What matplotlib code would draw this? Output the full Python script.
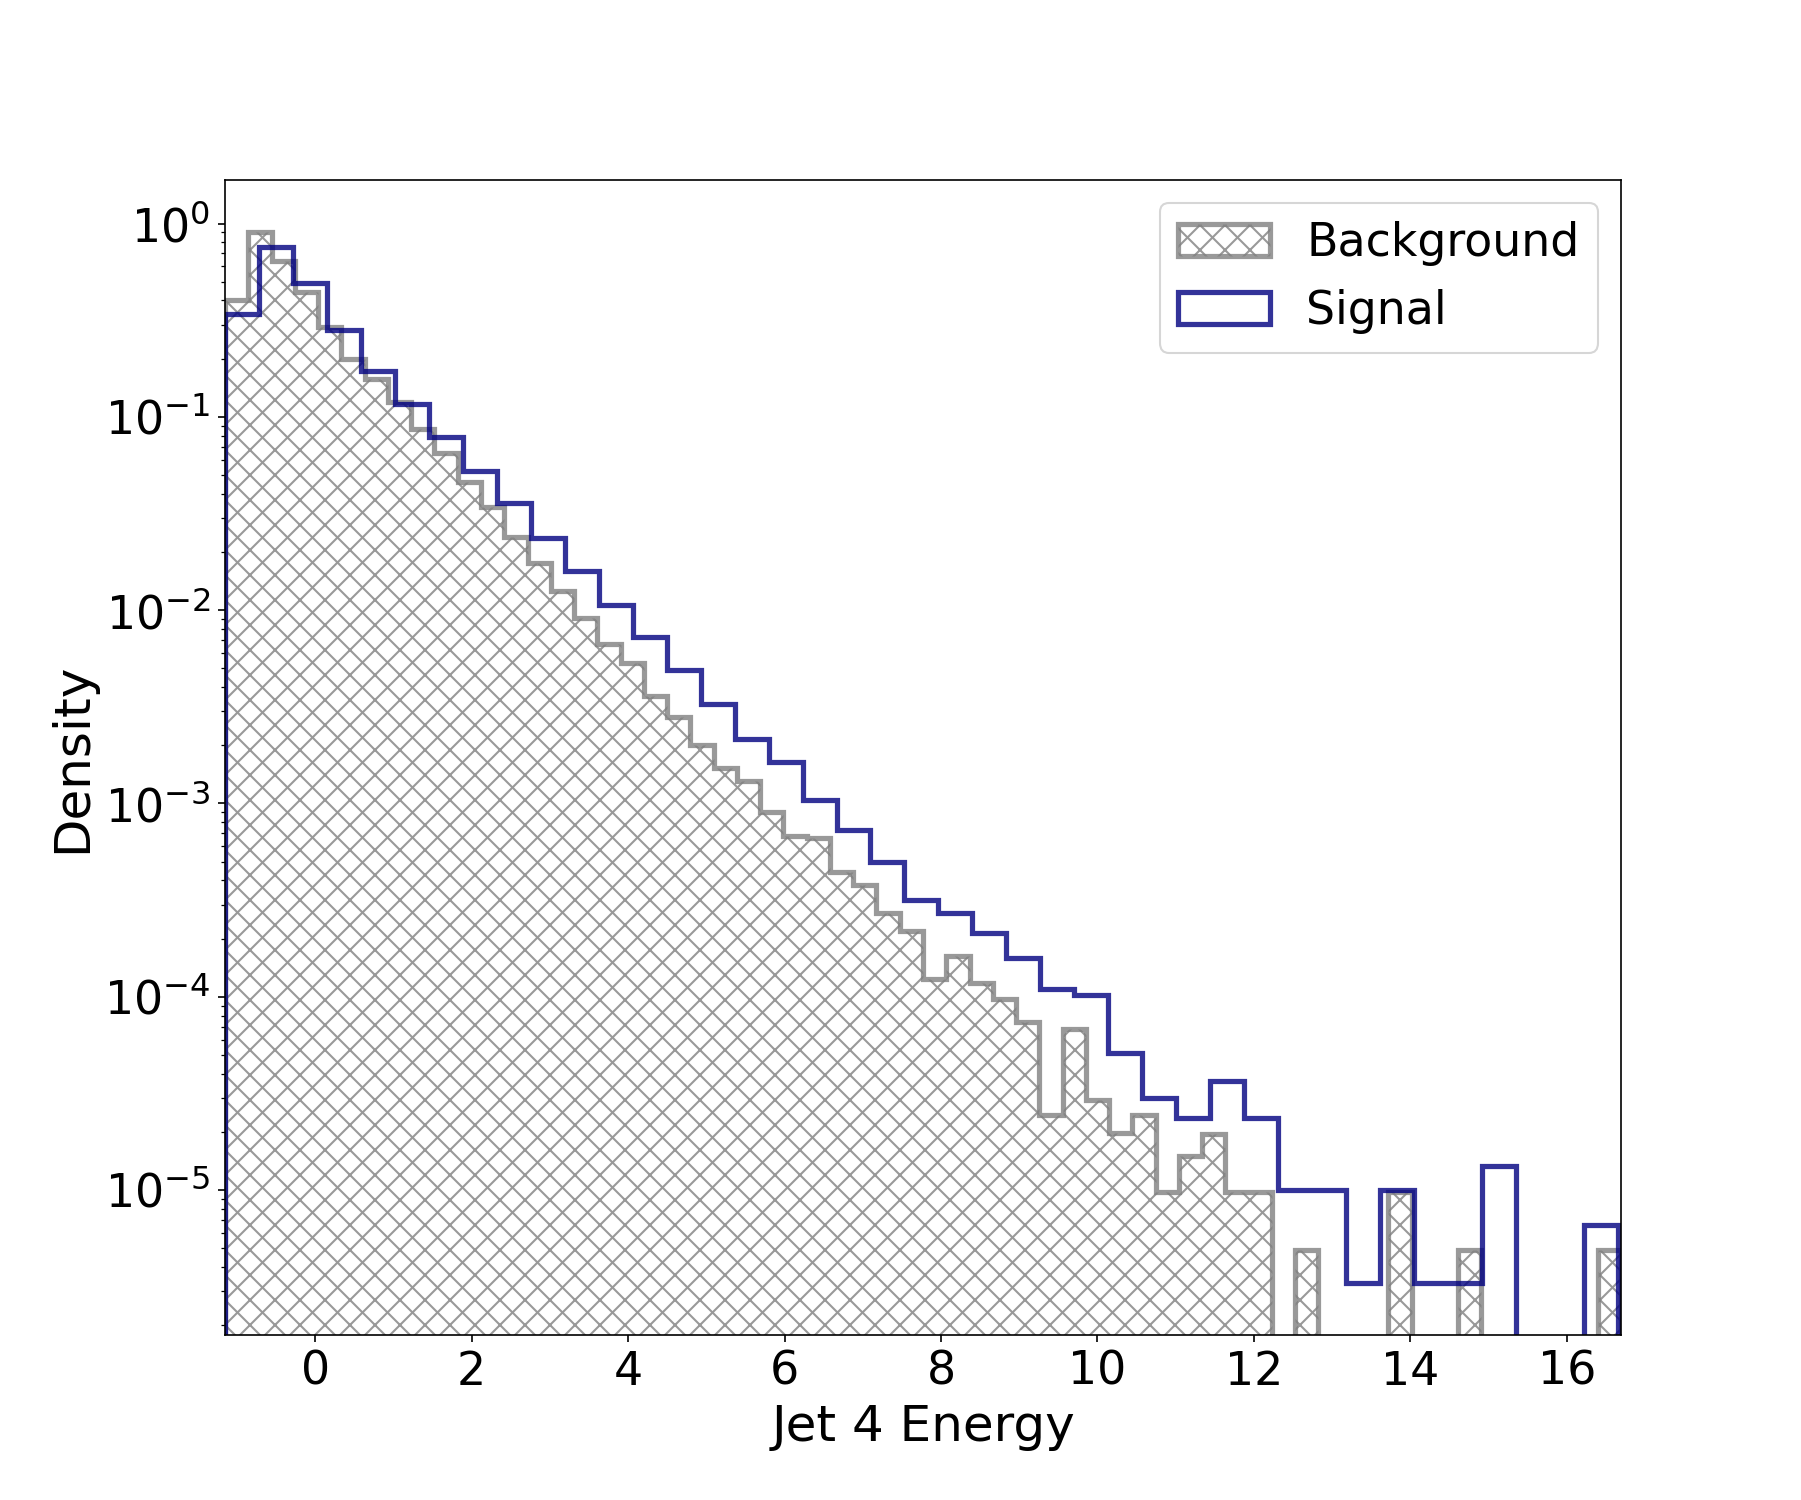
import numpy as np
import matplotlib
matplotlib.use("Agg")
import matplotlib.pyplot as plt

x_min, x_max = -1.15, 16.69
bg_nbins = 60
sig_nbins = 41
sig_max = 16.65

background = [0.40, 0.90, 0.64, 0.44, 0.29, 0.20, 0.157, 0.12, 0.087, 0.065,
              0.046, 0.034, 0.024, 0.0175, 0.0126, 0.0091, 0.0067, 0.0053, 0.0036, 0.0028,
              0.0020, 0.00153, 0.00130, 0.00090, 0.00068, 0.00066, 0.00044, 0.00038, 0.00027, 0.00022,
              0.000123, 0.000163, 0.000118, 0.000097, 7.4e-5, 2.46e-5, 6.8e-5, 2.94e-5, 1.98e-5, 2.46e-5,
              9.8e-6, 1.5e-5, 1.94e-5, 9.8e-6, 9.8e-6, 0, 4.9e-6, 0, 0, 0,
              9.8e-6, 0, 0, 4.9e-6, 0, 0, 0, 0, 0, 4.9e-6]

signal = [0.339, 0.760, 0.490, 0.283, 0.173, 0.116, 0.0783, 0.0525, 0.0358, 0.0237,
          0.0159, 0.0106, 0.00728, 0.00490, 0.00327, 0.00215, 0.00163, 0.00104, 0.00073, 0.00050,
          0.000318, 0.000271, 0.000215, 0.000158, 0.000110, 0.000102, 5.1e-5, 3.0e-5, 2.37e-5, 3.66e-5,
          2.37e-5, 1.0e-5, 1.0e-5, 3.3e-6, 1.0e-5, 3.3e-6, 3.3e-6, 1.33e-5, 0, 0, 6.6e-6]

bg_edges = np.linspace(x_min, x_max, bg_nbins + 1)
sig_edges = np.linspace(x_min, sig_max, sig_nbins + 1)
bg_centers = 0.5 * (bg_edges[1:] + bg_edges[:-1])
sig_centers = 0.5 * (sig_edges[1:] + sig_edges[:-1])

plt.rcParams['hatch.linewidth'] = 1.0
fig = plt.figure(figsize=(1801/150, 1500/150), dpi=150)
ax = fig.add_axes([0.125, 0.11, 0.775, 0.77])

ax.hist(bg_centers, bins=bg_edges, weights=background, histtype='stepfilled',
        fill=False, hatch='xx', edgecolor='gray', alpha=0.8, linewidth=2.5,
        label='Background')
ax.hist(sig_centers, bins=sig_edges, weights=signal, histtype='step',
        color='navy', alpha=0.8, linewidth=2.5, label='Signal')

ax.set_yscale('log')
ax.set_xlim(x_min, x_max)
ax.set_ylim(1.78e-6, 1.68)
ax.set_xticks([0, 2, 4, 6, 8, 10, 12, 14, 16])
ax.tick_params(axis='both', labelsize=22)
ax.set_xlabel('Jet 4 Energy', fontsize=24)
ax.set_ylabel('Density', fontsize=24)
ax.legend(fontsize=22, loc='upper right')

fig.savefig('out.png', dpi=150)
